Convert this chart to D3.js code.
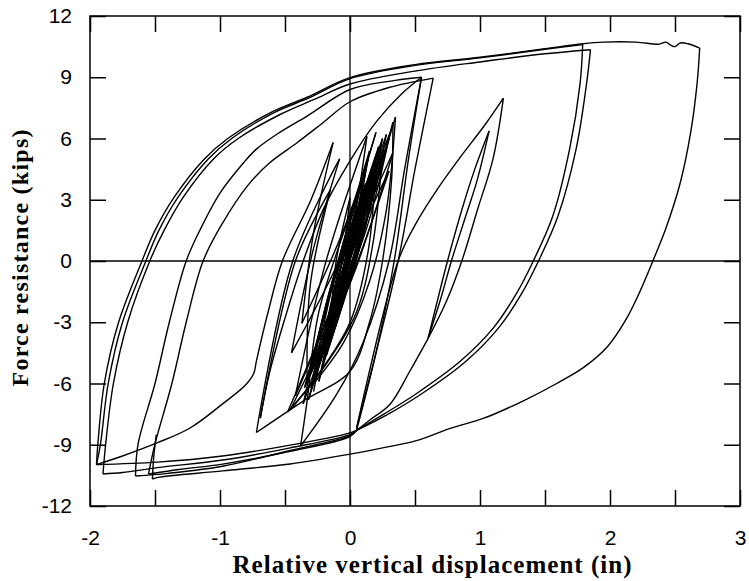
<!DOCTYPE html>
<html>
<head>
<meta charset="utf-8">
<script src="https://cdn.jsdelivr.net/npm/d3@7"></script>
<style>
  body { margin: 0; background: #fff; }
  text { fill: #000; }
</style>
</head>
<body>
<svg id="chart" width="749" height="581"></svg>
<script>
// tick values
const xTickValues = [-2, -1.5, -1, -0.5, 0, 0.5, 1, 1.5, 2, 2.5, 3];
const yTickValues = [-12, -9, -6, -3, 0, 3, 6, 9, 12];

// branches of the force-displacement record, [displacement (in), force (kips)]
const outerReloads = [
  [[-1.95,-9.97],[-1.94,-9],[-1.89,-6],[-1.78,-3],[-1.6,0],[-1.5,1.5],[-1.35,3.15],[-1.12,5.0],[-0.94,6.0],[-0.6,7.3],[-0.33,8.02],[0,8.98],[0.5,9.62],[1.0,9.98],[1.5,10.4],[1.79,10.64],[1.95,10.72],[2.2,10.72],[2.38,10.62],[2.43,10.72],[2.47,10.56],[2.5,10.5],[2.54,10.68],[2.6,10.64],[2.69,10.43]],
  [[-1.95,-9.97],[-1.92,-9],[-1.86,-6],[-1.75,-3],[-1.57,0],[-1.47,1.5],[-1.32,3.15],[-1.09,5.0],[-0.91,6.0],[-0.58,7.28],[-0.31,8.0],[0,8.93],[0.5,9.58],[1.0,9.95],[1.5,10.37],[1.79,10.6]],
  [[-1.9,-10.43],[-1.88,-9],[-1.82,-6],[-1.71,-3],[-1.54,0],[-1.43,1.5],[-1.28,3.15],[-1.05,5.0],[-0.86,6.0],[-0.53,7.2],[-0.28,7.9],[0,8.67],[0.5,9.3],[1.0,9.75],[1.5,10.15],[1.85,10.35]]
];

const outerUnloads = [
  [[1.79,10.6],[1.77,8.7],[1.69,5.5],[1.56,2.2],[1.41,0],[1.28,-1.6],[1.1,-3.3],[0.85,-4.9],[0.51,-6.5],[0.26,-7.5],[0.05,-8.3]],
  [[1.85,10.35],[1.82,8.7],[1.74,5.5],[1.6,2.2],[1.45,0],[1.32,-1.6],[1.14,-3.3],[0.89,-4.92],[0.54,-6.55],[0.28,-7.55],[0.05,-8.3]],
  [[2.69,10.43],[2.67,8.7],[2.62,6.27],[2.54,3.82],[2.43,1.6],[2.33,0],[2.23,-1.5],[2.12,-2.9],[1.98,-4.2],[1.8,-5.2],[1.59,-6.0],[1.33,-6.86],[1.03,-7.7],[0.77,-8.2],[0.51,-8.8],[0.26,-9.14],[0,-9.46],[-0.46,-9.94],[-0.98,-10.28],[-1.48,-10.6],[-1.52,-10.68]],
  [[-1.52,-10.68],[-1.51,-9.6],[-1.49,-8.5]]
];

const lowerEnvelope = [
  [[0.05,-8.3],[0,-8.42],[-0.46,-9.02],[-0.98,-9.55],[-1.48,-9.85],[-1.95,-9.97]],
  [[0.05,-8.3],[0,-8.5],[-0.46,-9.15],[-0.98,-9.75],[-1.48,-10.12],[-1.75,-10.36],[-1.9,-10.43]],
  [[0.05,-8.3],[0,-8.55],[-0.46,-9.28],[-0.98,-10.05],[-1.4,-10.4],[-1.65,-10.53]],
  [[0.05,-8.3],[0,-8.6],[-0.46,-9.32],[-0.98,-9.95],[-1.3,-10.2],[-1.55,-10.43]]
];

const innerLoops = [
  [[-1.65,-10.53],[-1.63,-8.96],[-1.5,-6.0],[-1.39,-3.0],[-1.26,0],[-1.15,1.57],[-1.0,3.33],[-0.82,4.8],[-0.72,5.48],[-0.56,6.22],[-0.33,7.1],[0,8.4],[0.3,8.8],[0.55,9.0]],
  [[-1.55,-10.43],[-1.5,-8.96],[-1.37,-6.0],[-1.26,-3.0],[-1.13,0],[-0.98,1.86],[-0.79,3.67],[-0.62,4.8],[-0.41,5.78],[-0.21,6.76],[0,7.8],[0.3,8.5],[0.64,8.96]],
  [[0.55,9.0],[0.42,4.5],[0.3,0],[0.1,-4],[-0.1,-6.5],[-0.38,-9.06]],
  [[0.64,8.96],[0.5,4.5],[0.37,0],[0.05,-8.2]],
  [[0.55,9.0],[0.45,5],[0.34,0],[0.2,-4.5],[0.05,-8.3]]
];

const rightLoops = [
  [[0.05,-8.2],[0.37,0],[0.51,1.87],[0.67,3.5],[0.85,5.1],[1.03,6.6],[1.18,7.98]],
  [[1.18,7.98],[1.1,5],[0.98,2.5],[0.86,0],[0.74,-2],[0.6,-3.8]],
  [[0.6,-3.8],[0.67,-2],[0.75,0],[0.86,2.5],[0.96,4.5],[1.07,6.37]],
  [[1.07,6.37],[0.98,4],[0.88,2],[0.78,0],[0.7,-1.8],[0.6,-3.8]],
  [[0.6,-3.8],[0.46,-5.4],[0.31,-7.0],[0.15,-7.8],[0.05,-8.3]]
];

const spikeBranches = [
  [[0.2,6.3],[-0.045,1.6],[-0.37,-3.05]],
  [[-0.37,-3.05],[-0.28,1.4],[-0.13,5.8]],
  [[-0.13,5.8],[-0.3,3],[-0.52,0],[-0.63,-2.5],[-0.72,-4.9],[-0.74,-5.5],[-0.8,-6.05],[-0.98,-7.0],[-1.23,-8.18],[-1.48,-8.9],[-1.75,-9.55],[-1.95,-9.97]]
];

const clusterBranches = [
  [[-0.38,-9.06],[-0.33,-6.86],[-0.24,-2.5],[0.10,4.0]],
  [[0.10,4.0],[-0.05,-0.75],[-0.30,-5.5]],
  [[-0.30,-5.5],[-0.09,-0.25],[0.22,5.0]],
  [[0.22,5.0],[-0.05,-0.8],[-0.42,-6.6]],
  [[-0.42,-6.6],[-0.195,-0.25],[0.13,6.1]],
  [[0.13,6.1],[-0.01,0.65],[-0.25,-4.8]],
  [[-0.25,-4.8],[-0.025,-0.2],[0.30,4.4]],
  [[0.30,4.4],[-0.03,-1.45],[-0.46,-7.3]],
  [[-0.46,-7.3],[-0.2,-5.2],[0.05,-2.5],[0.18,1.0],[0.25,5.4]],
  [[0.25,5.4],[0.075,0.7],[-0.20,-4.0]],
  [[-0.20,-4.0],[0.015,0.65],[0.33,5.3]],
  [[0.33,5.3],[0.04,-0.45],[-0.35,-6.2]],
  [[-0.35,-6.2],[-0.07,0.05],[0.31,6.3]],
  [[0.31,6.3],[0.13,1.65],[-0.15,-3.0]],
  [[-0.15,-3.0],[-0.105,0.05],[0.0,3.1]],
  [[0.0,3.1],[-0.10,-1.45],[-0.28,-6.0]],
  [[-0.28,-6.0],[-0.05,-4.0],[0.15,-1.0],[0.28,2.5],[0.35,7.05]],
  [[0.35,7.05],[-0.015,-0.18],[-0.48,-7.4]],
  [[-0.48,-7.4],[-0.25,-5.6],[0.0,-3.0],[0.14,0.5],[0.20,4.8]],
  [[0.20,4.8],[-0.075,0.15],[-0.45,-4.5]],
  [[-0.45,-4.5],[-0.295,0.25],[-0.08,5.0]],
  [[-0.08,5.0],[-0.44,0],[-0.72,-8.4]],
  [[-0.72,-8.4],[-0.36,-6.86],[0,-5.4],[0.15,-3],[0.25,0],[0.32,4],[0.33,6.8]],
  [[0.33,6.8],[0.05,0.5],[-0.33,-5.8]],
  [[-0.33,-5.8],[-0.305,-1.15],[-0.15,3.5]],
  [[-0.15,3.5],[-0.42,0],[-0.69,-7.7]],
  [[-0.69,-7.7],[-0.62,-5.5],[-0.5,-2.8],[-0.36,0],[-0.2,2.6],[0,4.9],[0.2,6.8],[0.4,8.2],[0.55,9.0]]
];

const centerCycles = [
  [[-0.22,-4.2],[-0.05,0.15],[0.18,4.5]],
  [[0.18,4.5],[0.03,0.35],[-0.18,-3.8]],
  [[-0.18,-3.8],[-0.06,0],[0.12,3.8]],
  [[0.12,3.8],[-0.035,-0.6],[-0.25,-5.0]],
  [[-0.25,-5.0],[-0.045,0.3],[0.22,5.6]],
  [[0.22,5.6],[0.065,1.05],[-0.15,-3.5]],
  [[-0.15,-3.5],[-0.025,0.35],[0.16,4.2]],
  [[0.16,4.2],[-0.04,-0.5],[-0.3,-5.2]],
  [[-0.3,-5.2],[-0.14,-1.1],[0.08,3.0]],
  [[0.08,3.0],[-0.03,-0.7],[-0.2,-4.4]],
  [[-0.2,-4.4],[-0.005,0.8],[0.25,6.0]],
  [[0.25,6.0],[0.105,1.6],[-0.1,-2.8]],
  [[-0.1,-2.8],[-0.01,1.1],[0.14,5.0]],
  [[0.14,5.0],[-0.03,-0.3],[-0.26,-5.6]],
  [[-0.26,-5.6],[-0.06,0.35],[0.2,6.3]]
];

const coreCycles = [
  [[-0.28,-6.4],[-0.07,-0.3],[0.24,5.8]],
  [[0.24,5.8],[0.04,0.25],[-0.22,-5.3]],
  [[-0.22,-5.3],[-0.055,-0.35],[0.17,4.6]],
  [[0.17,4.6],[-0.045,-1.1],[-0.32,-6.8]],
  [[-0.32,-6.8],[-0.05,-0.3],[0.28,6.2]],
  [[0.28,6.2],[0.08,0.8],[-0.18,-4.6]],
  [[-0.18,-4.6],[-0.015,0.3],[0.21,5.2]],
  [[0.21,5.2],[-0.045,-0.9],[-0.36,-7.0]],
  [[-0.36,-7.0],[-0.15,-1.3],[0.12,4.4]],
  [[0.12,4.4],[-0.03,-0.75],[-0.24,-5.9]],
  [[-0.24,-5.9],[-0.02,-0.2],[0.26,5.5]],
  [[0.26,5.5],[0.06,0.3],[-0.2,-4.9]],
  [[-0.2,-4.9],[0.02,0.55],[0.3,6.0]],
  [[0.3,6.0],[0.03,-0.1],[-0.3,-6.2]],
  [[-0.3,-6.2],[-0.105,-0.4],[0.15,5.4]]
];

const size = { width: 749, height: 581, left: 90, right: 740, top: 16, bottom: 506 };
const svg = d3.select('#chart');

const xScale = d3.scaleLinear().domain([-2, 3]).range([size.left, size.right]);
const yScale = d3.scaleLinear().domain([-12, 12]).range([size.bottom, size.top]);

// zero lines
svg.append('line')
  .attr('x1', xScale(0)).attr('x2', xScale(0))
  .attr('y1', size.top).attr('y2', size.bottom)
  .attr('stroke', '#000').attr('stroke-width', 1.3);
svg.append('line')
  .attr('x1', size.left).attr('x2', size.right)
  .attr('y1', yScale(0)).attr('y2', yScale(0))
  .attr('stroke', '#000').attr('stroke-width', 1.3);

// curves
const line = d3.line()
  .x(d => xScale(d[0]))
  .y(d => yScale(d[1]))
  .curve(d3.curveCatmullRom.alpha(0.5));

const branches = [].concat(outerReloads, outerUnloads, lowerEnvelope, innerLoops,
  rightLoops, spikeBranches, clusterBranches, centerCycles, coreCycles);

svg.append('g')
  .selectAll('path')
  .data(branches)
  .join('path')
  .attr('d', line)
  .attr('fill', 'none')
  .attr('stroke', '#000')
  .attr('stroke-width', 1.4)
  .attr('stroke-linejoin', 'round');

// axes, ticks point inward
const fmt = d => Number.isInteger(d) ? String(d) : '';
const tickFont = "'Liberation Sans', Arial, sans-serif";

svg.append('g')
  .attr('transform', `translate(0, ${size.bottom})`)
  .call(d3.axisBottom(xScale).tickValues(xTickValues).tickFormat(fmt).tickSizeInner(-16).tickSizeOuter(0).tickPadding(24));
svg.append('g')
  .attr('transform', `translate(0, ${size.top})`)
  .call(d3.axisTop(xScale).tickValues(xTickValues).tickFormat('').tickSizeInner(-16).tickSizeOuter(0));
svg.append('g')
  .attr('transform', `translate(${size.left}, 0)`)
  .call(d3.axisLeft(yScale).tickValues(yTickValues).tickFormat(d => String(d)).tickSizeInner(-16).tickSizeOuter(0).tickPadding(18));
svg.append('g')
  .attr('transform', `translate(${size.right}, 0)`)
  .call(d3.axisRight(yScale).tickValues(yTickValues).tickFormat('').tickSizeInner(-16).tickSizeOuter(0));

svg.selectAll('.domain').remove();
svg.selectAll('.tick line').attr('stroke', '#000').attr('stroke-width', 1.5);
svg.selectAll('.tick text')
  .attr('font-family', tickFont)
  .attr('font-size', 21)
  .attr('fill', '#000');

// frame
svg.append('rect')
  .attr('x', size.left).attr('y', size.top)
  .attr('width', size.right - size.left)
  .attr('height', size.bottom - size.top)
  .attr('fill', 'none')
  .attr('stroke', '#000')
  .attr('stroke-width', 1.5);

// labels
const titleFont = "'Liberation Serif', 'Times New Roman', serif";
svg.append('text')
  .attr('x', 432)
  .attr('y', 573)
  .attr('text-anchor', 'middle')
  .attr('font-family', titleFont)
  .attr('font-weight', 'bold')
  .attr('font-size', 25)
  .attr('textLength', 399)
  .attr('lengthAdjust', 'spacing')
  .text('Relative vertical displacement (in)');

svg.append('text')
  .attr('transform', `translate(28, 258) rotate(-90)`)
  .attr('text-anchor', 'middle')
  .attr('font-family', titleFont)
  .attr('font-weight', 'bold')
  .attr('font-size', 24)
  .attr('textLength', 257)
  .attr('lengthAdjust', 'spacing')
  .text('Force resistance (kips)');
</script>
</body>
</html>
